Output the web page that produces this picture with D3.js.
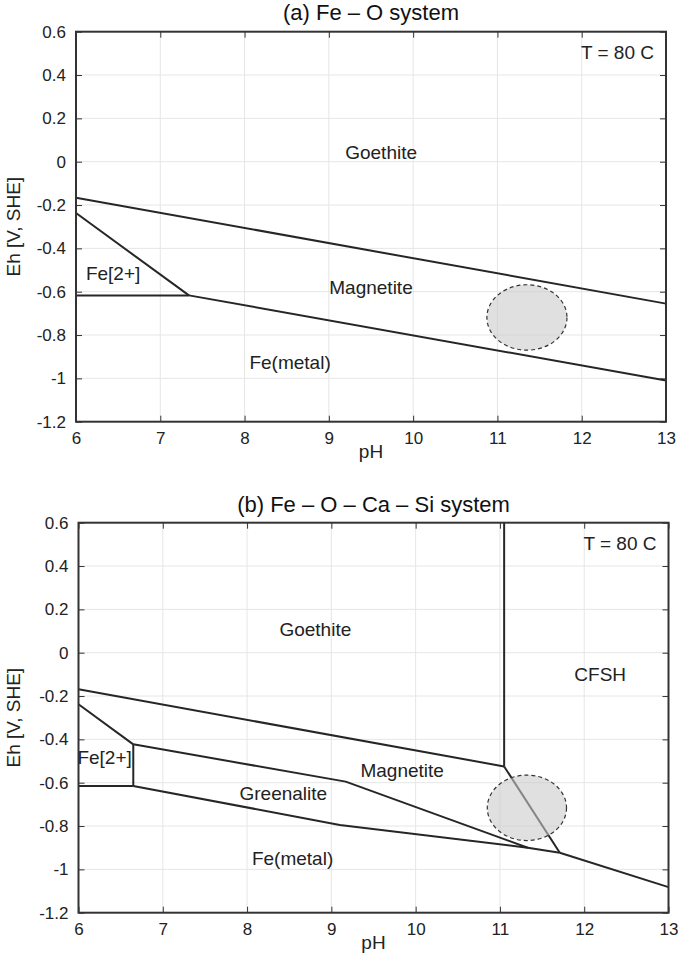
<!DOCTYPE html>
<html><head><meta charset="utf-8">
<script src="https://cdn.jsdelivr.net/npm/d3@7"></script>
<style>body{margin:0;background:#fff;} svg{display:block;font-family:"Liberation Sans",Arial,sans-serif;}</style>
</head><body>
<svg id="chart" width="685" height="958"></svg>
<script>
// ---- data ----
const xTicks = [6,7,8,9,10,11,12,13];
const yTicks = [0.6,0.4,0.2,0,-0.2,-0.4,-0.6,-0.8,-1,-1.2];
const titles = ["(a) Fe \u2013 O system", "(b) Fe \u2013 O \u2013 Ca \u2013 Si system"];
const tempLabel = "T = 80 C";

// boundary lines: [pH, Eh] vertices
const linesA = [
  [[6,-0.166],[13,-0.655]],
  [[6,-0.237],[7.34,-0.617]],
  [[6,-0.617],[7.34,-0.617]],
  [[7.34,-0.617],[13,-1.01]]
];
const linesB = [
  [[6,-0.169],[11.05,-0.525]],
  [[11.05,0.6],[11.05,-0.525]],
  [[11.05,-0.525],[11.71,-0.923]],
  [[11.71,-0.923],[13,-1.082]],
  [[6,-0.238],[6.65,-0.423]],
  [[6.65,-0.423],[6.65,-0.615]],
  [[6,-0.615],[6.65,-0.615]],
  [[6.65,-0.423],[9.17,-0.595],[11.33,-0.90]],
  [[6.65,-0.615],[9.1,-0.795],[11.33,-0.90],[11.71,-0.923]]
];
// region labels: [text, pH, Eh]
const labelsA = [["Goethite",9.62,0.045],["Magnetite",9.5,-0.578],["Fe[2+]",6.44,-0.517],["Fe(metal)",8.54,-0.924]];
const labelsB = [["Goethite",8.81,0.11],["CFSH",12.19,-0.1],["Magnetite",9.84,-0.544],["Fe[2+]",6.31,-0.481],["Greenalite",8.43,-0.647],["Fe(metal)",8.54,-0.947]];
// dashed ellipse region: [center pH, center Eh, half-width pH, half-height Eh]
const ellipseA = [11.35,-0.719,0.475,0.151];
const ellipseB = [11.32,-0.716,0.47,0.151];

const panels = [
  {title:titles[0], lines:linesA, labels:labelsA, ell:ellipseA, x0:76, x1:666, y0:31.7, y1:421.7, titleY:12},
  {title:titles[1], lines:linesB, labels:labelsB, ell:ellipseB, x0:78.5, x1:668.5, y0:522.7, y1:912.7, titleY:504}
];

const svg = d3.select("#chart");

panels.forEach(p => {
  const x = d3.scaleLinear().domain([6,13]).range([p.x0,p.x1]);
  const y = d3.scaleLinear().domain([-1.2,0.6]).range([p.y1,p.y0]);
  const g = svg.append("g");

  // grid
  g.append("g").selectAll("line").data(xTicks.slice(1,-1)).join("line")
    .attr("x1",d=>x(d)).attr("x2",d=>x(d)).attr("y1",p.y0).attr("y2",p.y1)
    .attr("stroke","#e6e6e6").attr("stroke-width",1);
  g.append("g").selectAll("line").data(yTicks.slice(1,-1)).join("line")
    .attr("y1",d=>y(d)).attr("y2",d=>y(d)).attr("x1",p.x0).attr("x2",p.x1)
    .attr("stroke","#e6e6e6").attr("stroke-width",1);

  // axes (ticks inward)
  const ax = g.append("g").attr("transform",`translate(0,${p.y1})`)
    .call(d3.axisBottom(x).tickValues(xTicks).tickSize(-6).tickPadding(10).tickFormat(d=>d));
  const axT = g.append("g").attr("transform",`translate(0,${p.y0})`)
    .call(d3.axisTop(x).tickValues(xTicks).tickSize(-6).tickFormat(""));
  const ay = g.append("g").attr("transform",`translate(${p.x0},0)`)
    .call(d3.axisLeft(y).tickValues(yTicks).tickSize(-6).tickPadding(10).tickFormat(d=>String(+d.toFixed(1))));
  const ayR = g.append("g").attr("transform",`translate(${p.x1},0)`)
    .call(d3.axisRight(y).tickValues(yTicks).tickSize(-6).tickFormat(""));
  [ax,axT,ay,ayR].forEach(a=>{
    a.select(".domain").remove();
    a.selectAll(".tick line").attr("stroke","#333").attr("stroke-width",1);
    a.selectAll("text").attr("fill","#222").style("font-size","17px").style("font-family","'Liberation Sans',Arial,sans-serif");
  });
  ax.selectAll("text").attr("dy","0.71em");

  // boundary lines
  const lg = d3.line().x(d=>x(d[0])).y(d=>y(d[1]));
  g.append("g").selectAll("path").data(p.lines).join("path")
    .attr("d",lg).attr("fill","none").attr("stroke","#262626").attr("stroke-width",2)
    .attr("stroke-linejoin","round");

  // ellipse
  const e = p.ell;
  g.append("ellipse")
    .attr("cx",x(e[0])).attr("cy",y(e[1]))
    .attr("rx",x(e[0]+e[2])-x(e[0])).attr("ry",y(e[1])-y(e[1]+e[3]))
    .attr("fill","rgb(201,201,201)").attr("fill-opacity",0.58)
    .attr("stroke","#333").attr("stroke-width",1.2).attr("stroke-dasharray","4,3");

  // frame
  g.append("rect").attr("x",p.x0).attr("y",p.y0).attr("width",p.x1-p.x0).attr("height",p.y1-p.y0)
    .attr("fill","none").attr("stroke","#333").attr("stroke-width",2);

  // region labels
  g.append("g").selectAll("text").data(p.labels).join("text")
    .attr("x",d=>x(d[1])).attr("y",d=>y(d[2])).attr("text-anchor","middle").attr("dy","0.35em")
    .attr("fill","#222").style("font-size","19px").text(d=>d[0]);

  // temperature
  g.append("text").attr("x",p.x1-12).attr("y",p.y0+21).attr("text-anchor","end").attr("dy","0.35em")
    .attr("fill","#222").style("font-size","19px").text(tempLabel);

  // title
  g.append("text").attr("x",(p.x0+p.x1)/2).attr("y",p.titleY).attr("text-anchor","middle").attr("dy","0.35em")
    .attr("fill","#111").style("font-size","22px").text(p.title);

  // axis labels
  g.append("text").attr("x",(p.x0+p.x1)/2).attr("y",p.y1+30).attr("text-anchor","middle").attr("dy","0.35em")
    .attr("fill","#222").style("font-size","19px").text("pH");
  g.append("text").attr("transform",`translate(13,${(p.y0+p.y1)/2}) rotate(-90)`)
    .attr("text-anchor","middle").attr("dy","0.35em")
    .attr("fill","#222").style("font-size","19px").text("Eh [V, SHE]");
});
</script>
</body></html>
